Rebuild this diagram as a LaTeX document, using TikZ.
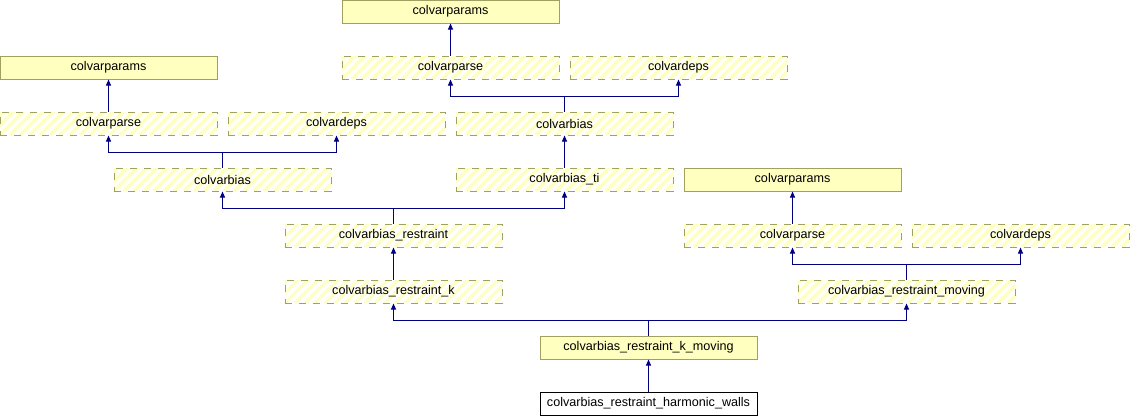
\documentclass[tikz,border=0pt]{standalone}
\usepackage{fontspec}
\setmainfont{Liberation Sans}
\usetikzlibrary{arrows.meta}
\definecolor{boxfill}{HTML}{FFFFC0}
\definecolor{boxborder}{HTML}{A0A060}
\definecolor{stripe}{HTML}{FFFFC4}
\definecolor{edgecol}{HTML}{000080}
\tikzset{
  cls/.style={minimum width=217pt, minimum height=23pt, inner sep=0pt,
    font=\fontsize{12.6}{14}\selectfont, line width=1pt},
  solidbox/.style={cls, draw=boxborder, fill=boxfill},
  curbox/.style={cls, draw=black, fill=white},
  hatchbox/.style={cls, draw=boxborder, dash pattern=on 7pt off 7pt,
    path picture={
      \foreach \k in {-3,...,23}{
        \draw[stripe, line width=3.4pt, solid]
          ([xshift=\k*10pt]path picture bounding box.south west) -- ++(30pt,30pt);
      }
    }},
  inh/.style={draw=edgecol, line width=1pt, -{Triangle[length=6pt,width=5pt]}},
  lnk/.style={draw=edgecol, line width=1pt}
}
\begin{document}
\begin{tikzpicture}[x=1pt,y=-1pt]
\useasboundingbox (0,0) rectangle (1130,416);
% nodes
\node[solidbox] (p1) at (450.5,11.5) {colvarparams};
\node[solidbox] (p2) at (108.5,67.5) {colvarparams};
\node[hatchbox] (s1) at (450.5,67.5) {colvarparse};
\node[hatchbox] (d1) at (678.5,67.5) {colvardeps};
\node[hatchbox] (s2) at (108.5,123.5) {colvarparse};
\node[hatchbox] (d2) at (336.5,123.5) {colvardeps};
\node[hatchbox] (b1) at (564.5,123.5) {colvarbias};
\node[hatchbox] (b2) at (222.5,179.5) {colvarbias};
\node[hatchbox] (ti) at (564.5,179.5) {colvarbias\_ti};
\node[solidbox] (p3) at (792.5,179.5) {colvarparams};
\node[hatchbox] (r) at (393.5,235.5) {colvarbias\_restraint};
\node[hatchbox] (s3) at (792.5,235.5) {colvarparse};
\node[hatchbox] (d3) at (1020.5,235.5) {colvardeps};
\node[hatchbox] (rk) at (393.5,291.5) {colvarbias\_restraint\_k};
\node[hatchbox] (rm) at (906.5,291.5) {colvarbias\_restraint\_moving};
\node[solidbox] (rkm) at (648.5,347.5) {colvarbias\_restraint\_k\_moving};
\node[curbox] (hw) at (648.5,403.5) {colvarbias\_restraint\_harmonic\_walls};
% junctions
\coordinate (j1) at (564.5,96);
\coordinate (j2) at (222.5,152);
\coordinate (j3) at (393.5,208);
\coordinate (j4) at (906.5,264);
\coordinate (j5) at (648.5,320);
% edges
\draw[inh] (s1.north) -- (p1.south);
\draw[inh] (s2.north) -- (p2.south);
\draw[inh] (s3.north) -- (p3.south);
\draw[inh] (ti.north) -- (b1.south);
\draw[inh] (rk.north) -- (r.south);
\draw[inh] (hw.north) -- (rkm.south);
\draw[lnk] (b1.north) -- (j1);
\draw[inh] (j1) -| (s1.south);
\draw[inh] (j1) -| (d1.south);
\draw[lnk] (b2.north) -- (j2);
\draw[inh] (j2) -| (s2.south);
\draw[inh] (j2) -| (d2.south);
\draw[lnk] (r.north) -- (j3);
\draw[inh] (j3) -| (b2.south);
\draw[inh] (j3) -| (ti.south);
\draw[lnk] (rm.north) -- (j4);
\draw[inh] (j4) -| (s3.south);
\draw[inh] (j4) -| (d3.south);
\draw[lnk] (rkm.north) -- (j5);
\draw[inh] (j5) -| (rk.south);
\draw[inh] (j5) -| (rm.south);
\end{tikzpicture}
\end{document}
